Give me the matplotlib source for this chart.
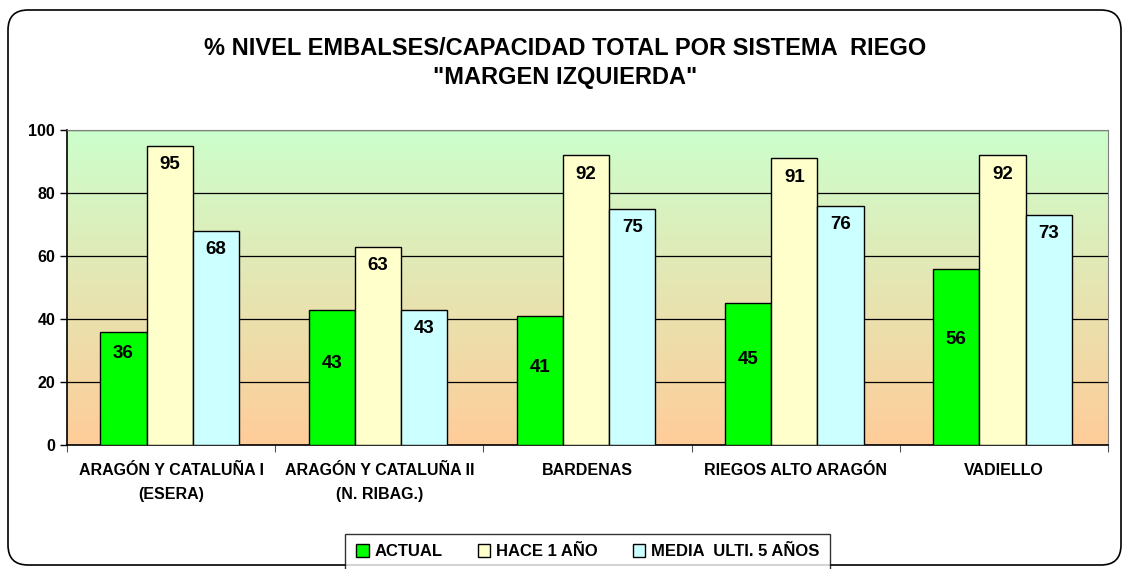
import numpy as np
import matplotlib
matplotlib.use('Agg')
import matplotlib.pyplot as plt
import matplotlib.patches as mpatches
from matplotlib.colors import LinearSegmentedColormap
from matplotlib.transforms import IdentityTransform

plt.rcParams['font.family'] = ['Liberation Sans', 'DejaVu Sans']
plt.rcParams['font.weight'] = 'bold'

# datos
sistemas = ['ARAGÓN Y CATALUÑA I\n(ESERA)', 'ARAGÓN Y CATALUÑA II\n(N. RIBAG.)',
            'BARDENAS', 'RIEGOS ALTO ARAGÓN', 'VADIELLO']
actual = [36, 43, 41, 45, 56]
hace_1_anio = [95, 63, 92, 91, 92]
media_5_anios = [68, 43, 75, 76, 73]

series = ['ACTUAL', 'HACE 1 AÑO', 'MEDIA  ULTI. 5 AÑOS']
colores = ['#00FF00', '#FFFFCC', '#CCFFFF']

fig = plt.figure(figsize=(11.28, 5.69), dpi=100)
ax = fig.add_axes([0.0594, 0.2179, 0.9229, 0.5536])

# fondo degradado verde -> melocoton
cmap = LinearSegmentedColormap.from_list('fondo', ['#FFCC99', '#CCFFCC'])
grad = np.linspace(0, 1, 256).reshape(-1, 1)
ax.imshow(grad, cmap=cmap, origin='lower', aspect='auto',
          extent=[0, 1, 0, 1], transform=ax.transAxes, zorder=0)

x = np.arange(len(sistemas))
w = 0.222
for i, (vals, col) in enumerate(zip([actual, hace_1_anio, media_5_anios], colores)):
    pos = x + (i - 1) * w - 0.007
    ax.bar(pos, vals, w, color=col, edgecolor='black', linewidth=1,
           label=series[i], zorder=3)
    for p, v in zip(pos, vals):
        if i == 0:
            ty = v - 7 if v < 40 else v * 0.6
        else:
            ty = v - 6
        ax.text(p, ty, f'{v:.0f}', ha='center', va='center',
                fontsize=13.5, fontweight='bold', zorder=4)

ax.set_xlim(-0.5, len(sistemas) - 0.5)
ax.set_ylim(0, 100)
ax.set_yticks(range(0, 101, 20))
ax.yaxis.grid(True, color='black', linewidth=0.9, zorder=1)
ax.set_axisbelow(True)
ax.tick_params(axis='y', labelsize=11.5, length=5, direction='out', width=1)

ax.set_xticks(np.arange(-0.5, len(sistemas), 1.0))
ax.set_xticklabels([])
ax.set_xticks(x, minor=True)
ax.set_xticklabels(sistemas, minor=True, fontsize=11.5, fontweight='bold',
                   linespacing=1.75)
ax.tick_params(axis='x', which='major', length=5, direction='out', color='#555555')
ax.tick_params(axis='x', which='minor', length=0, pad=13)

for s in ['top', 'right']:
    ax.spines[s].set_color('#808080')
for s in ['left', 'bottom']:
    ax.spines[s].set_color('black')
    ax.spines[s].set_linewidth(1.2)

fig.text(0.501, 0.889, '% NIVEL EMBALSES/CAPACIDAD TOTAL POR SISTEMA  RIEGO\n"MARGEN IZQUIERDA"',
         ha='center', va='center', fontsize=17, fontweight='bold', linespacing=1.35)

leg = fig.legend(loc='upper center', bbox_to_anchor=(0.521, 0.077), ncol=3,
                 fontsize=12, frameon=True, fancybox=False, edgecolor='black',
                 handlelength=0.75, handleheight=0.75, columnspacing=2.1,
                 handletextpad=0.35, borderpad=0.65)
leg.get_frame().set_linewidth(1)
for t in leg.get_texts():
    t.set_fontweight('bold')

borde = mpatches.FancyBboxPatch((8, 4), 1113, 555,
                                boxstyle='round,pad=0,rounding_size=20',
                                transform=IdentityTransform(), fill=False,
                                edgecolor='black', linewidth=1.2)
fig.patches.append(borde)

fig.savefig('out.png', dpi=100)
